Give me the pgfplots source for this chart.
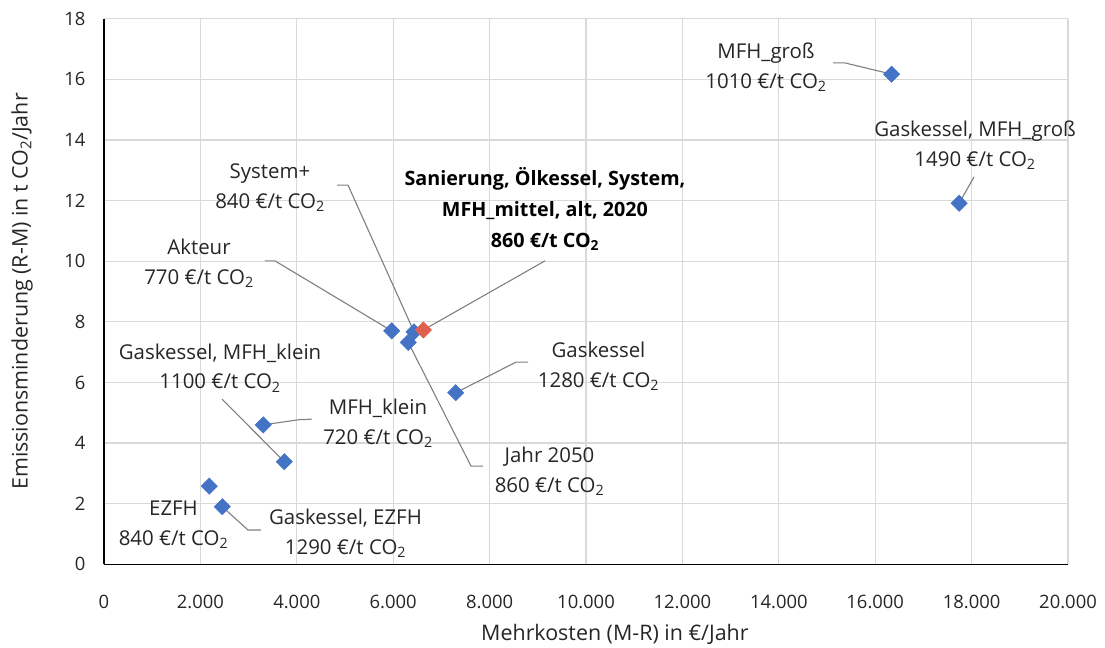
\documentclass[border=0pt]{standalone}
\usepackage{fontspec}
\setmainfont{Open Sans}
\usepackage{pgfplots}
\pgfplotsset{compat=1.18}
\definecolor{mblue}{HTML}{4472C4}
\definecolor{mred}{HTML}{E06050}
\definecolor{gridc}{HTML}{D9D9D9}
\definecolor{leader}{HTML}{7F7F7F}
\newcommand{\coz}{CO\textsubscript{2}}
\begin{document}
\begin{tikzpicture}[x=1bp,y=1bp]
\useasboundingbox (-104,-83.7) rectangle (1001,564.3);
\begin{axis}[
  at={(0,0)}, anchor=south west,
  scale only axis, width=964bp, height=545.6bp,
  xmin=0, xmax=20000, ymin=0, ymax=18,
  xtick={0,2000,...,20000}, ytick={0,2,...,18},
  scaled x ticks=false,
  /pgf/number format/.cd, 1000 sep={.}, assume math mode=true, /pgfplots/.cd,
  grid=major, major grid style={gridc, line width=1.2bp},
  separate axis lines, axis x line*=bottom, axis y line*=left,
  axis line style={black, line width=1.4bp, -},
  tick style={draw=none},
  ticklabel style={font=\fontsize{18.5}{22}\selectfont, text=black!85},
  xticklabel style={yshift=-27bp},
  yticklabel style={xshift=-15bp},
  xlabel={Mehrkosten (M-R) in €/Jahr},
  ylabel={Emissionsminderung (R-M) in t CO\textsubscript{2}/Jahr},
  label style={font=\fontsize{21.5}{24}\selectfont, text=black!85},
  xlabel style={at={(axis description cs:0.53,0)}, anchor=center, yshift=-70bp},
  ylabel style={at={(axis description cs:-0.085,0.5)}, anchor=center, rotate=0},
  clip=false,
]
% blue points
\addplot[only marks, mark=square*, mark size=5.8bp, color=mblue,
  mark options={rotate=45, draw=mblue, fill=mblue}] coordinates {
  (16340,16.17) (17740,11.91) (5969,7.70) (6432,7.67) (6313,7.32)
  (7297,5.66) (3305,4.60) (3741,3.385) (2185,2.58) (2454,1.90)
};
% red point
\addplot[only marks, mark=square*, mark size=5.8bp, color=mred,
  mark options={rotate=45, draw=mred, fill=mred}] coordinates {(6625,7.73)};

% leader lines
\begin{scope}[leader, line width=1.1bp]
\draw (axis cs:15125,16.54) -- (axis cs:15374,16.54) -- (axis cs:16340,16.17);
\draw (axis cs:18050,12.78) -- (axis cs:17740,11.91);
\draw (axis cs:9149,10.01) -- (axis cs:6625,7.73);
\draw (axis cs:4834,12.51) -- (axis cs:5062,12.51) -- (axis cs:6432,7.67);
\draw (axis cs:3340,10.01) -- (axis cs:3548,10.01) -- (axis cs:5969,7.70);
\draw (axis cs:2448,5.45) -- (axis cs:3741,3.385);
\draw (axis cs:8797,6.67) -- (axis cs:8548,6.67) -- (axis cs:7297,5.66);
\draw (axis cs:4315,4.79) -- (axis cs:4046,4.77) -- (axis cs:3305,4.60);
\draw (axis cs:7863,3.24) -- (axis cs:7614,3.24) -- (axis cs:6313,7.32);
\draw (axis cs:3257,1.13) -- (axis cs:2988,1.13) -- (axis cs:2454,1.90);
\end{scope}

% labels
\begin{scope}[every node/.style={align=center, inner sep=0pt, text=black!85,
  font=\fontsize{20.5}{30}\selectfont}]
\node at (axis cs:13734,16.41) {MFH\_groß\\1010 €/t \coz};
\node at (axis cs:18071,13.83) {Gaskessel, MFH\_groß\\1490 €/t \coz};
\node[text=black, font=\fontsize{19.8}{31}\selectfont\bfseries] at (axis cs:9149,11.72) {Sanierung, Ölkessel, System,\\MFH\_mittel, alt, 2020\\860 €/t \coz};
\node at (axis cs:3444,12.43) {System+\\840 €/t \coz};
\node at (axis cs:1971,9.94) {Akteur\\770 €/t \coz};
\node at (axis cs:2407,6.48) {Gaskessel, MFH\_klein\\1100 €/t \coz};
\node at (axis cs:10259,6.53) {Gaskessel\\1280 €/t \coz};
\node at (axis cs:5685,4.645) {MFH\_klein\\720 €/t \coz};
\node at (axis cs:9243,3.08) {Jahr 2050\\860 €/t \coz};
\node at (axis cs:1442,1.31) {EZFH\\840 €/t \coz};
\node at (axis cs:5010,1.03) {Gaskessel, EZFH\\1290 €/t \coz};
\end{scope}
\end{axis}
\end{tikzpicture}
\end{document}
